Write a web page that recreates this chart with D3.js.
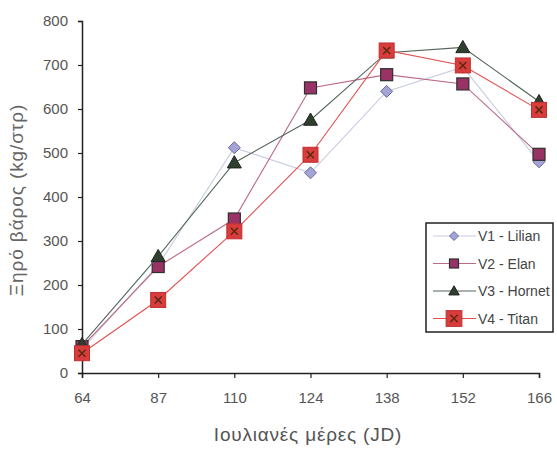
<!DOCTYPE html>
<html>
<head>
<meta charset="utf-8">
<script src="https://cdn.jsdelivr.net/npm/d3@7"></script>
<style>
  body { margin: 0; background: #fff; }
  svg { display: block; font-family: Arial, "Liberation Sans", sans-serif; }
</style>
</head>
<body>
<svg id="chart" width="557" height="451"></svg>
<script>
// Julian days of sampling
const days = ["64", "87", "110", "124", "138", "152", "166"];
// Dry weight (kg/στρ) per variety
const lilian = [55, 245, 512, 455, 640, 695, 480];
const elan   = [60, 242, 350, 648, 678, 657, 497];
const hornet = [65, 265, 478, 575, 728, 740, 617];
const titan  = [45, 166, 322, 496, 733, 699, 598];
const yTicks = [0, 100, 200, 300, 400, 500, 600, 700, 800];

const series = [
  { name: "V1 - Lilian", values: lilian, line: "#c8cce0", fill: "#a3a3d6", stroke: "#6a6a99", shape: "diamond" },
  { name: "V2 - Elan",   values: elan,   line: "#bb6a88", fill: "#993366", stroke: "#2e2e2e", shape: "square" },
  { name: "V3 - Hornet", values: hornet, line: "#55655a", fill: "#2f3f2f", stroke: "#222", shape: "triangle" },
  { name: "V4 - Titan",  values: titan,  line: "#e45050", fill: "#d93c3c", stroke: "#c03030", shape: "xsquare" }
];

const svg = d3.select("#chart");
const x = d3.scalePoint().domain(days).range([82, 539]);
const y = d3.scaleLinear().domain([0, 800]).range([373, 21]);

// Axes
const xAxis = svg.append("g").attr("transform", "translate(0,373)")
  .call(d3.axisBottom(x).tickSize(5).tickPadding(14));
const yAxis = svg.append("g").attr("transform", "translate(82,0)")
  .call(d3.axisLeft(y).tickValues(yTicks).tickSize(4).tickPadding(10));
[xAxis, yAxis].forEach(g => {
  g.select(".domain").attr("stroke", "#222").attr("stroke-width", 1.5);
  g.selectAll(".tick line").attr("stroke", "#222").attr("stroke-width", 1.2);
  g.selectAll("text").attr("fill", "#555").style("font-size", "15px");
});

// Axis titles
svg.append("text")
  .attr("x", 308).attr("y", 441)
  .attr("text-anchor", "middle")
  .attr("fill", "#555").style("font-size", "19px").style("letter-spacing", "0.8px")
  .text("Ιουλιανές μέρες (JD)");
svg.append("text")
  .attr("transform", "translate(23,200) rotate(-90)")
  .attr("text-anchor", "middle")
  .attr("fill", "#666").style("font-size", "19px").style("letter-spacing", "0.9px")
  .text("Ξηρό βάρος (kg/στρ)");

function drawMarker(g, shape, s, cx, cy, scale) {
  const k = scale || 1;
  if (shape === "diamond") {
    const r = 6 * k;
    g.append("path").attr("d", `M${cx},${cy - r}L${cx + r},${cy}L${cx},${cy + r}L${cx - r},${cy}Z`)
      .attr("fill", s.fill).attr("stroke", s.stroke).attr("stroke-width", 1);
  } else if (shape === "square") {
    const h = 6 * k;
    g.append("rect").attr("x", cx - h).attr("y", cy - h).attr("width", 2 * h).attr("height", 2 * h)
      .attr("fill", s.fill).attr("stroke", s.stroke).attr("stroke-width", 1.2);
  } else if (shape === "triangle") {
    const h = 7 * k;
    g.append("path").attr("d", `M${cx},${cy - h}L${cx + h},${cy + h * 0.75}L${cx - h},${cy + h * 0.75}Z`)
      .attr("fill", s.fill).attr("stroke", s.stroke).attr("stroke-width", 1);
  } else {
    const h = 7.5 * k, c = 3.5 * k;
    g.append("rect").attr("x", cx - h).attr("y", cy - h).attr("width", 2 * h).attr("height", 2 * h)
      .attr("fill", s.fill).attr("stroke", s.stroke).attr("stroke-width", 1);
    g.append("path").attr("d", `M${cx - c},${cy - c}L${cx + c},${cy + c}M${cx + c},${cy - c}L${cx - c},${cy + c}`)
      .attr("stroke", "#5a2a10").attr("stroke-width", 1.5);
  }
}

// Lines and markers
const line = d3.line().x((d, i) => x(days[i])).y(d => y(d));
series.forEach(s => {
  const g = svg.append("g");
  g.append("path").datum(s.values).attr("d", line)
    .attr("fill", "none").attr("stroke", s.line).attr("stroke-width", 1.1);
  s.values.forEach((v, i) => drawMarker(g, s.shape, s, x(days[i]), y(v)));
});

// Legend
const lg = svg.append("g");
lg.append("rect").attr("x", 426).attr("y", 223).attr("width", 127).attr("height", 109)
  .attr("fill", "#fff").attr("stroke", "#222").attr("stroke-width", 1.5);
series.forEach((s, i) => {
  const cy = 236 + i * 27.5;
  lg.append("line").attr("x1", 433).attr("x2", 476).attr("y1", cy).attr("y2", cy)
    .attr("stroke", s.line).attr("stroke-width", 1.2);
  drawMarker(lg, s.shape, s, 454, cy, s.shape === "xsquare" ? 1.05 : 0.75);
  lg.append("text").attr("x", 478).attr("y", cy + 5)
    .attr("fill", "#444").style("font-size", "14px")
    .text(s.name);
});
</script>
</body>
</html>
